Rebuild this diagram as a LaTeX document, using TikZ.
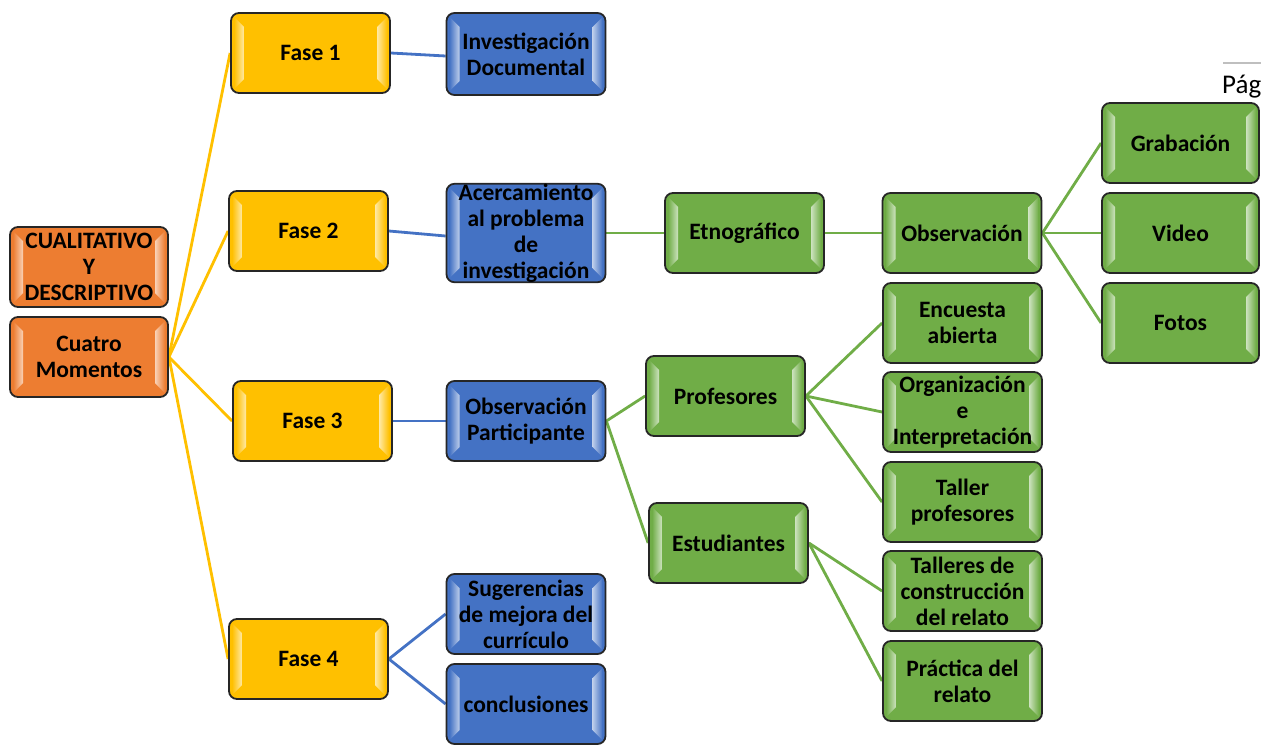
\documentclass[tikz,border=0pt]{standalone}
\usepackage{fontspec}
\setmainfont{Carlito}
\usetikzlibrary{calc}
\pgfdeclarelayer{bg}
\pgfsetlayers{bg,main}

\definecolor{cOrange}{HTML}{ED7D31}
\definecolor{cYellow}{HTML}{FFC000}
\definecolor{cBlue}{HTML}{4472C4}
\definecolor{cGreen}{HTML}{70AD47}

\tikzset{
  box/.style={draw=black!85, line width=1.8pt, rounded corners=8pt,
    minimum width=159pt, minimum height=80pt, inner sep=0pt, align=center,
    font=\bfseries\fontsize{23.5}{26}\selectfont, fill=#1,
    path picture={
      \coordinate (bbnw) at (path picture bounding box.north west);
      \coordinate (bbse) at (path picture bounding box.south east);
      \shade[draw=none, sharp corners, left color=#1, right color=#1!35!white]
        ($(bbnw)+(3pt,-4pt)$) -- ($(bbnw)+(13pt,-14pt)$) --
        ($(bbnw|-bbse)+(13pt,14pt)$) -- ($(bbnw|-bbse)+(3pt,4pt)$) -- cycle;
      \shade[draw=none, sharp corners, left color=#1!35!white, right color=#1]
        ($(bbse|-bbnw)+(-13pt,-14pt)$) -- ($(bbse|-bbnw)+(-3pt,-4pt)$) --
        ($(bbse)+(-3pt,4pt)$) -- ($(bbse)+(-13pt,14pt)$) -- cycle;
    }},
  link/.style={line width=2.8pt, draw=#1},
}

\begin{document}
\begin{tikzpicture}[x=1pt, y=-1pt]
  \useasboundingbox (0,0) rectangle (1261,747);

  % page header fragment
  \draw[black!25, line width=1.2pt] (1223,63) -- (1261,63);
  \node[anchor=base west, inner sep=0pt, font=\fontsize{27}{30}\selectfont] (pag) at (1222,93) {Pág};

  % root
  \node[box=cOrange, minimum width=158pt] (cual) at (89,267) {CUALITATIVO\\Y\\DESCRIPTIVO};
  \node[box=cOrange, minimum width=158pt] (cuatro) at (89,357) {Cuatro\\Momentos};

  % phases
  \node[box=cYellow] (f1) at (310.5,53) {Fase 1};
  \node[box=cYellow] (f2) at (308.5,231) {Fase 2};
  \node[box=cYellow] (f3) at (312.5,421) {Fase 3};
  \node[box=cYellow] (f4) at (308.5,659) {Fase 4};

  % second level
  \node[box=cBlue, minimum height=82pt] (inv) at (526,54) {Investigación\\Documental};
  \node[box=cBlue] (acer) at (526,233) {Acercamiento\\al problema\\de\\investigación};
  \node[box=cBlue] (obsp) at (526,421) {Observación\\Participante};
  \node[box=cBlue] (sug) at (526,614) {Sugerencias\\de mejora del\\currículo};
  \node[box=cBlue] (concl) at (526,704) {conclusiones};

  % ethnographic branch
  \node[box=cGreen] (etno) at (744.5,233) {Etnográfico};
  \node[box=cGreen] (obs) at (962,233) {Observación};
  \node[box=cGreen, minimum width=157pt] (grab) at (1180.5,143) {Grabación};
  \node[box=cGreen, minimum width=157pt] (video) at (1180.5,233) {Video};
  \node[box=cGreen, minimum width=157pt] (fotos) at (1180.5,323) {Fotos};

  % participant branch
  \node[box=cGreen] (prof) at (725.5,396) {Profesores};
  \node[box=cGreen] (est) at (728.5,543) {Estudiantes};
  \node[box=cGreen] (enc) at (962.5,323) {Encuesta\\abierta};
  \node[box=cGreen] (org) at (962.5,412) {Organización\\e\\Interpretación};
  \node[box=cGreen] (tal) at (962.5,502) {Taller\\profesores};
  \node[box=cGreen] (talc) at (962.5,591) {Talleres de\\construcción\\del relato};
  \node[box=cGreen] (prac) at (962.5,681) {Práctica del\\relato};

  \begin{pgfonlayer}{bg}
    \draw[link=cYellow] (cuatro.east) -- (f1.west);
    \draw[link=cYellow] (cuatro.east) -- (f2.west);
    \draw[link=cYellow] (cuatro.east) -- (f3.west);
    \draw[link=cYellow] (cuatro.east) -- (f4.west);

    \draw[link=cBlue] (f1.east) -- ([yshift=-2pt]inv.west);
    \draw[link=cBlue] (f2.east) -- ([yshift=-3pt]acer.west);
    \draw[link=cBlue] (f3.east) -- (obsp.west);
    \draw[link=cBlue] (f4.east) -- (sug.west);
    \draw[link=cBlue] (f4.east) -- (concl.west);

    \draw[link=cGreen] (acer.east) -- (etno.west);
    \draw[link=cGreen] (etno.east) -- (obs.west);
    \draw[link=cGreen] (obs.east) -- (grab.west);
    \draw[link=cGreen] (obs.east) -- (video.west);
    \draw[link=cGreen] (obs.east) -- (fotos.west);

    \draw[link=cGreen] (obsp.east) -- (prof.west);
    \draw[link=cGreen] (obsp.east) -- (est.west);
    \draw[link=cGreen] (prof.east) -- (enc.west);
    \draw[link=cGreen] (prof.east) -- (org.west);
    \draw[link=cGreen] (prof.east) -- (tal.west);
    \draw[link=cGreen] (est.east) -- (talc.west);
    \draw[link=cGreen] (est.east) -- (prac.west);
  \end{pgfonlayer}
\end{tikzpicture}
\end{document}
